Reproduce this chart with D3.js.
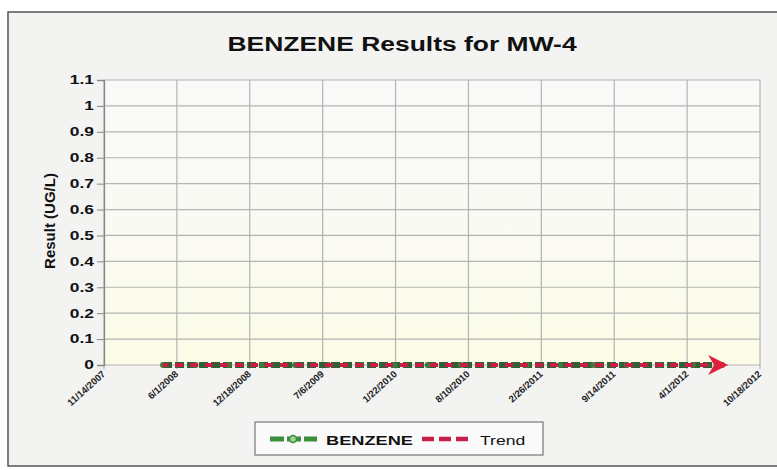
<!DOCTYPE html>
<html>
<head>
<meta charset="utf-8">
<script src="https://cdn.jsdelivr.net/npm/d3@7"></script>
<style>
  body { margin: 0; background: #fff; }
  svg { display: block; font-family: "Liberation Sans", Arial, sans-serif; }
</style>
</head>
<body>
<svg id="chart" width="777" height="470"></svg>
<script>
// tick labels along the date axis
const tickLabels = ['11/14/2007', '6/1/2008', '12/18/2008', '7/6/2009', '1/22/2010',
  '8/10/2010', '2/26/2011', '9/14/2011', '4/1/2012', '10/18/2012'];
const yTicks = [0, 0.1, 0.2, 0.3, 0.4, 0.5, 0.6, 0.7, 0.8, 0.9, 1, 1.1];

// benzene sample results (all at zero)
const sampleDates = ['4/24/2008', '7/22/2008', '10/21/2008', '1/20/2009', '4/21/2009',
  '7/21/2009', '10/20/2009', '1/19/2010', '4/20/2010', '7/20/2010', '10/19/2010',
  '1/18/2011', '4/19/2011', '7/19/2011', '10/18/2011', '1/17/2012', '4/17/2012', '7/6/2012'];
const benzene = [0, 0, 0, 0, 0, 0, 0, 0, 0, 0, 0, 0, 0, 0, 0, 0, 0, 0];

// trend line endpoints
const trendDates = ['4/24/2008', '7/6/2012'];
const trend = [0, 0];

const parse = d3.timeParse('%m/%d/%Y');
const svg = d3.select('#chart');

// outer frame
svg.append('rect')
  .attr('x', 8).attr('y', 12)
  .attr('width', 777).attr('height', 454)
  .attr('fill', '#f3f3f2')
  .attr('stroke', '#555').attr('stroke-width', 1.5);

const pLeft = 104, pRight = 760, pTop = 80, pBottom = 365;

const x = d3.scaleTime()
  .domain([parse(tickLabels[0]), parse(tickLabels[tickLabels.length - 1])])
  .range([pLeft, pRight]);
const y = d3.scaleLinear().domain([0, 1.1]).range([pBottom, pTop]);

// plot background, whitish top fading to cream at bottom
const defs = svg.append('defs');
const grad = defs.append('linearGradient')
  .attr('id', 'bg').attr('x1', 0).attr('y1', 0).attr('x2', 0).attr('y2', 1);
grad.append('stop').attr('offset', '0%').attr('stop-color', '#f9f9f8');
grad.append('stop').attr('offset', '55%').attr('stop-color', '#fafaf3');
grad.append('stop').attr('offset', '100%').attr('stop-color', '#fcfce6');

svg.append('rect')
  .attr('x', pLeft).attr('y', pTop)
  .attr('width', pRight - pLeft).attr('height', pBottom - pTop)
  .attr('fill', 'url(#bg)');

// title (the scan is stretched sideways, so text gets a horizontal scale)
svg.append('text')
  .attr('transform', 'translate(402,51) scale(1.26,1)')
  .attr('text-anchor', 'middle')
  .attr('font-size', 21).attr('font-weight', 'bold')
  .attr('fill', '#111')
  .text('BENZENE Results for MW-4');

// horizontal grid
svg.append('g')
  .selectAll('line')
  .data(yTicks).enter()
  .append('line')
  .attr('x1', pLeft).attr('x2', pRight)
  .attr('y1', d => y(d)).attr('y2', d => y(d))
  .attr('stroke', '#b4b4b4').attr('stroke-width', 1.2);

// vertical grid
svg.append('g')
  .selectAll('line')
  .data(tickLabels).enter()
  .append('line')
  .attr('x1', d => x(parse(d))).attr('x2', d => x(parse(d)))
  .attr('y1', pTop).attr('y2', pBottom + 4)
  .attr('stroke', '#b4b4b4').attr('stroke-width', 1.2);

// y axis
const yAxis = d3.axisLeft(y)
  .tickValues(yTicks)
  .tickFormat(d3.format('~g'))
  .tickSize(7);
const gy = svg.append('g')
  .attr('transform', `translate(${pLeft},0)`)
  .call(yAxis);
gy.select('.domain').attr('stroke', '#888').attr('stroke-width', 1.3);
gy.selectAll('.tick line').attr('stroke', '#888');
gy.selectAll('.tick text')
  .attr('x', 0)
  .attr('transform', 'translate(-10,0) scale(1.45,1)')
  .attr('font-size', 12).attr('font-weight', 'bold')
  .attr('fill', '#111').attr('font-family', '"Liberation Sans", Arial, sans-serif');

// x tick labels, rotated
svg.append('g')
  .selectAll('text')
  .data(tickLabels).enter()
  .append('text')
  .attr('transform', d => `translate(${x(parse(d)) + 2},${pBottom + 10}) rotate(-42)`)
  .attr('text-anchor', 'end')
  .attr('font-size', 9.5).attr('font-weight', 'bold')
  .attr('fill', '#222')
  .text(d => d);

// y axis title
svg.append('text')
  .attr('transform', 'translate(55,221) rotate(-90)')
  .attr('text-anchor', 'middle')
  .attr('font-size', 15).attr('font-weight', 'bold')
  .attr('fill', '#111')
  .text('Result (UG/L)');

// series
const line = d3.line()
  .x(d => x(d.date))
  .y(d => y(d.value));

const benzeneData = sampleDates.map((d, i) => ({ date: parse(d), value: benzene[i] }));
const trendData = trendDates.map((d, i) => ({ date: parse(d), value: trend[i] }));

svg.append('path')
  .datum(benzeneData)
  .attr('d', line)
  .attr('fill', 'none')
  .attr('stroke', '#2f5f34').attr('stroke-width', 6)
  .attr('stroke-dasharray', '9,3');

svg.append('g')
  .selectAll('circle')
  .data(benzeneData).enter()
  .append('circle')
  .attr('cx', d => x(d.date)).attr('cy', d => y(d.value))
  .attr('r', 3)
  .attr('fill', '#3f7a3a');

defs.append('marker')
  .attr('id', 'arrow')
  .attr('viewBox', '0 0 10 10')
  .attr('refX', 7).attr('refY', 5)
  .attr('markerWidth', 6).attr('markerHeight', 5)
  .attr('orient', 'auto')
  .append('path')
  .attr('d', 'M0,0 L10,5 L0,10 L3,5 Z')
  .attr('fill', '#e0203f');

svg.append('path')
  .datum(trendData)
  .attr('d', line)
  .attr('fill', 'none')
  .attr('stroke', '#c81e45').attr('stroke-width', 4)
  .attr('stroke-dasharray', '8,7')
  .attr('stroke-dashoffset', 3)
  .attr('marker-end', 'url(#arrow)');

// legend
const lg = svg.append('g');
lg.append('rect')
  .attr('x', 255).attr('y', 422)
  .attr('width', 288).attr('height', 33)
  .attr('fill', '#fafafa')
  .attr('stroke', '#777').attr('stroke-width', 1.2);

lg.append('line')
  .attr('x1', 270).attr('x2', 317).attr('y1', 439).attr('y2', 439)
  .attr('stroke', '#3b8f3c').attr('stroke-width', 5)
  .attr('stroke-dasharray', '14,3');
lg.append('circle')
  .attr('cx', 293).attr('cy', 439).attr('r', 3.5)
  .attr('fill', '#9fd09a').attr('stroke', '#3b8f3c').attr('stroke-width', 1.5);
lg.append('text')
  .attr('transform', 'translate(326,445) scale(1.35,1)')
  .attr('font-size', 13.5).attr('font-weight', 'bold')
  .attr('fill', '#111')
  .text('BENZENE');

lg.append('line')
  .attr('x1', 422).attr('x2', 468).attr('y1', 439).attr('y2', 439)
  .attr('stroke', '#c81e45').attr('stroke-width', 4.5)
  .attr('stroke-dasharray', '12,5');
lg.append('text')
  .attr('transform', 'translate(480,445) scale(1.3,1)')
  .attr('font-size', 13.5)
  .attr('fill', '#111')
  .text('Trend');
</script>
</body>
</html>
